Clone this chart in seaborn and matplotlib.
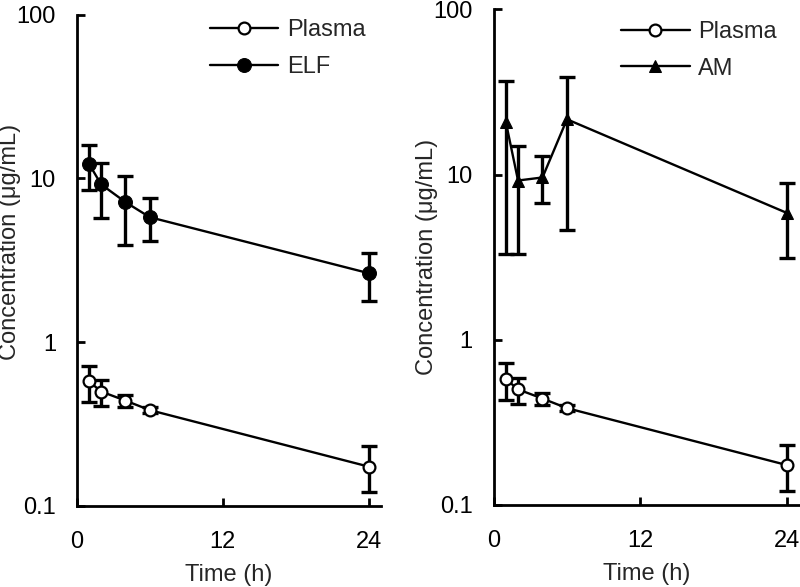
import numpy as np
import pandas as pd
import matplotlib
matplotlib.use("Agg")
import matplotlib.pyplot as plt
import seaborn as sns
from matplotlib.ticker import FixedLocator, FixedFormatter, NullLocator

# sampling times (h)
time_h = [1, 2, 4, 6, 24]

# plasma concentration (ug/mL) with error bar ends
plasma = [0.577, 0.50, 0.44, 0.385, 0.174]
plasma_hi = [0.72, 0.585, 0.478, 0.40, 0.231]
plasma_lo = [0.43, 0.41, 0.40, 0.37, 0.121]

# epithelial lining fluid
elf = [12.3, 9.2, 7.17, 5.8, 2.64]
elf_hi = [16.0, 12.5, 10.4, 7.6, 3.52]
elf_lo = [8.5, 5.76, 3.92, 4.15, 1.78]

# alveolar macrophages
am = [20.8, 9.2, 9.6, 21.6, 5.85]
am_hi = [36.7, 14.9, 12.9, 39.1, 8.9]
am_lo = [3.32, 3.32, 6.73, 4.6, 3.14]

y_ticks = [0.1, 1, 10, 100]
y_tick_labels = ["0.1", "1", "10", "100"]
x_ticks = [0, 12, 24]

sns.set_theme(style="ticks")
plt.rcParams['font.family'] = ['Liberation Sans', 'DejaVu Sans']
plt.rcParams['font.size'] = 17

fig = plt.figure(figsize=(8, 5.87), dpi=100)
ax1 = fig.add_axes([0.096, 0.138, 0.380, 0.837])
ax2 = fig.add_axes([0.617, 0.140, 0.382, 0.844])

open_style = dict(marker='o', markersize=8.5, markerfacecolor='white',
                  markeredgecolor='black', markeredgewidth=1.6)


def draw_series(ax, y, hi, lo, label, style):
    df = pd.DataFrame({'time': time_h, 'conc': y})
    yerr = np.array([np.array(y) - np.array(lo), np.array(hi) - np.array(y)])
    ax.errorbar(time_h, y, yerr=yerr, fmt='none', ecolor='black',
                elinewidth=2.4, capsize=5.5, capthick=2.4, zorder=2)
    sns.lineplot(data=df, x='time', y='conc', ax=ax, color='black',
                 linewidth=1.7, label=label, zorder=3, **style)


def style_axes(ax, leg_anchor, label_y):
    ax.set_yscale('log')
    ax.set_ylim(0.1, 100)
    ax.set_xlim(0, 25)
    ax.yaxis.set_major_locator(FixedLocator(y_ticks))
    ax.yaxis.set_major_formatter(FixedFormatter(y_tick_labels))
    ax.yaxis.set_minor_locator(NullLocator())
    ax.set_xticks(x_ticks)
    ax.tick_params(direction='in', length=6, width=2, labelsize=17,
                   colors='black')
    ax.tick_params(axis='y', pad=15)
    ax.tick_params(axis='x', pad=18)
    for s in ['top', 'right']:
        ax.spines[s].set_visible(False)
    for s in ['left', 'bottom']:
        ax.spines[s].set_linewidth(2)
        ax.spines[s].set_color('black')
    ax.set_xlabel('Time (h)', fontsize=17, labelpad=8)
    ax.set_ylabel('Concentration (μg/mL)', fontsize=17)
    ax.yaxis.set_label_coords(-0.182, label_y)
    ax.legend(loc='upper right', frameon=False, fontsize=17,
              handlelength=2.9, handletextpad=0.35, borderaxespad=0.0,
              labelspacing=0.63, bbox_to_anchor=leg_anchor)


draw_series(ax1, plasma, plasma_hi, plasma_lo, 'Plasma', open_style)
draw_series(ax1, elf, elf_hi, elf_lo, 'ELF',
            dict(marker='o', markersize=10, markerfacecolor='black',
                 markeredgecolor='black'))
style_axes(ax1, (0.98, 1.01), 0.538)

draw_series(ax2, plasma, plasma_hi, plasma_lo, 'Plasma', open_style)
draw_series(ax2, am, am_hi, am_lo, 'AM',
            dict(marker='^', markersize=9, markerfacecolor='black',
                 markeredgecolor='black'))
style_axes(ax2, (0.957, 0.996), 0.50)

fig.savefig('out.png', dpi=100)
